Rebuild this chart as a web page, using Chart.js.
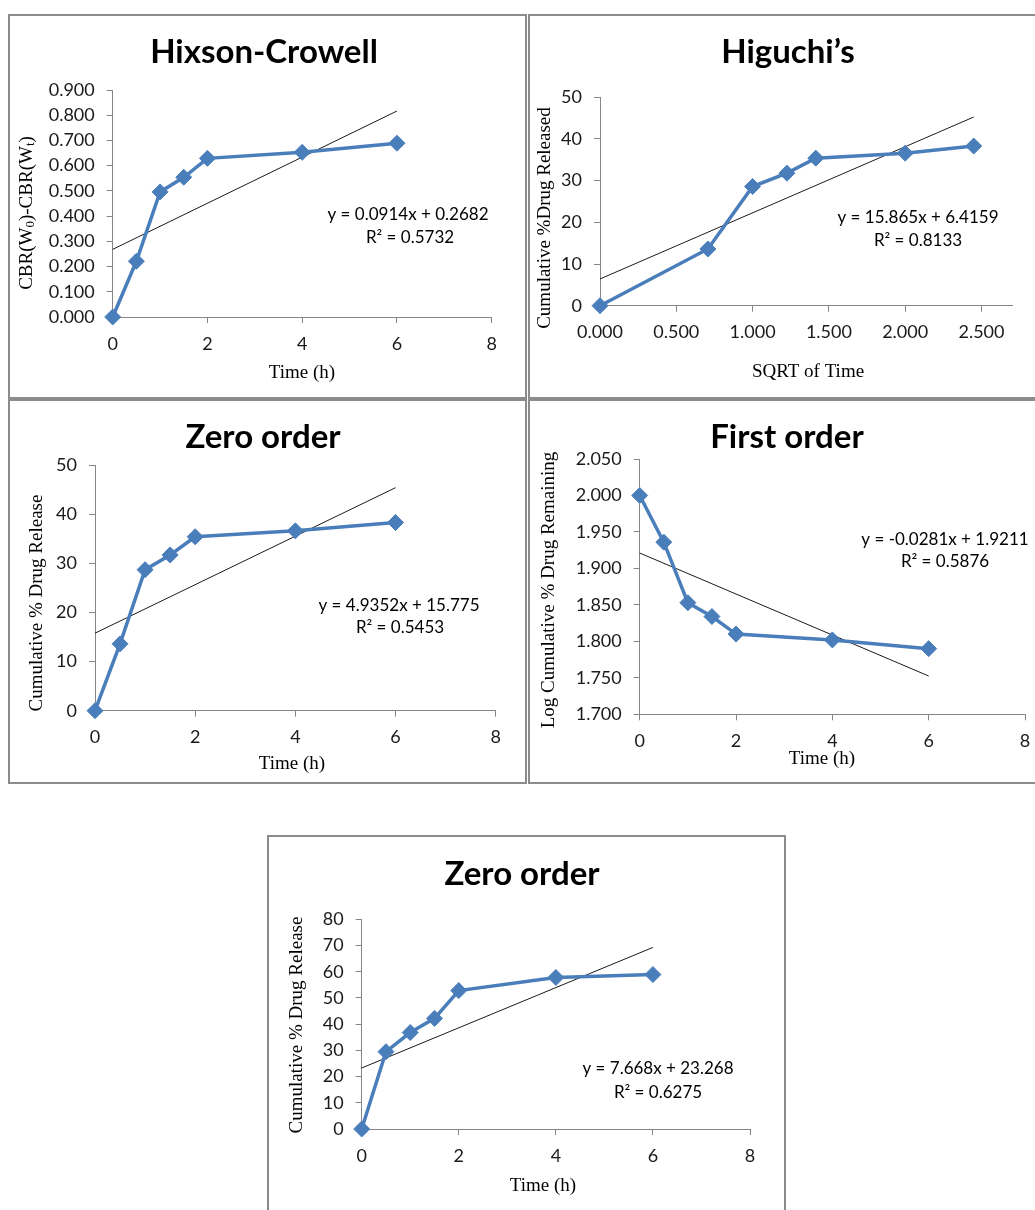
<!doctype html>
<html>
<head>
<meta charset="utf-8">
<title>Release kinetics models</title>
<script src="https://cdn.jsdelivr.net/npm/chart.js@4.4.1/dist/chart.umd.min.js"></script>
<style>
html, body { margin: 0; padding: 0; overflow: hidden; }
body { width: 1035px; height: 1210px; position: relative; background: #fff; }
.box { position: absolute; border: 2px solid #8c8c8c; box-sizing: border-box; background: #fff; }
.box canvas { position: absolute; left: 0; top: 0; }
</style>
</head>
<body>

<div class="box" style="left:8px;top:14px;width:519px;height:385px"><canvas id="c1" width="515" height="381"></canvas></div>
<div class="box" style="left:528px;top:14px;width:520px;height:385px"><canvas id="c2" width="516" height="381"></canvas></div>
<div class="box" style="left:8px;top:399px;width:519px;height:385px"><canvas id="c3" width="515" height="381"></canvas></div>
<div class="box" style="left:528px;top:399px;width:520px;height:385px"><canvas id="c4" width="516" height="381"></canvas></div>
<div class="box" style="left:267px;top:835px;width:519px;height:390px"><canvas id="c5" width="515" height="386"></canvas></div>

<script>
// values
var timeH = [0, 0.5, 1, 1.5, 2, 4, 6];
var sqrtTime = [0, 0.707, 1, 1.225, 1.414, 2, 2.449];

var hixsonY = [0, 0.221, 0.496, 0.554, 0.629, 0.653, 0.689];
var higuchiY = [0, 13.6, 28.6, 31.8, 35.4, 36.6, 38.3];
var zeroY = [0, 13.6, 28.7, 31.7, 35.4, 36.6, 38.3];
var firstY = [2.000, 1.936, 1.853, 1.834, 1.810, 1.802, 1.790];
var zero2Y = [0, 29.5, 36.8, 42.2, 52.8, 57.8, 58.9];

// trendlines [slope, intercept] as printed on each chart
var hixsonFit = [0.0914, 0.2682];
var higuchiFit = [15.865, 6.4159];
var zeroFit = [4.9352, 15.775];
var firstFit = [-0.0281, 1.9211];
var zero2Fit = [7.668, 23.268];

var BLUE = '#4a7ebb';
var AXIS = '#868686';
var TITLE_FONT = 'bold 33px Lato';
var AXIS_FONT = '19px "Liberation Serif"';
var EQ_FONT = '17px Lato';

// draws titles, axis titles and equations at page positions
var pageText = {
	id: 'pageText',
	afterDraw: function(chart, args, opts) {
		var ctx = chart.ctx;
		var ox = opts.origin[0], oy = opts.origin[1];
		opts.items.forEach(function(it) {
			ctx.save();
			ctx.fillStyle = '#000';
			ctx.translate(it.x - ox, it.y - oy);
			if (it.rot) {
				ctx.rotate(-Math.PI / 2);
				ctx.textBaseline = 'middle';
			} else {
				ctx.textBaseline = 'alphabetic';
			}
			if (it.parts) {
				// text with subscripts
				var total = 0;
				it.parts.forEach(function(p) {
					ctx.font = p.sub ? '13px "Liberation Serif"' : it.font;
					total += ctx.measureText(p.t).width;
				});
				var x = -total / 2;
				ctx.textAlign = 'left';
				it.parts.forEach(function(p) {
					ctx.font = p.sub ? '13px "Liberation Serif"' : it.font;
					ctx.fillText(p.t, x, p.sub ? 4 : 0);
					x += ctx.measureText(p.t).width;
				});
			} else {
				ctx.font = it.font;
				ctx.textAlign = 'center';
				ctx.fillText(it.t, 0, 0);
			}
			ctx.restore();
		});
	}
};

function axis(min, max, step, dec) {
	return {
		type: 'linear',
		min: min,
		max: max,
		ticks: {
			stepSize: step,
			includeBounds: false,
			font: { family: 'Lato', size: 18 },
			color: '#1a1a1a',
			padding: 11,
			callback: function(v) { return Number(v).toFixed(dec); }
		},
		grid: { drawOnChartArea: false, tickLength: 6, color: AXIS, lineWidth: 1 },
		border: { color: AXIS, width: 1 }
	};
}

function makeChart(id, s) {
	var cv = document.getElementById(id);
	var ox = s.origin[0], oy = s.origin[1];
	var W = cv.width, H = cv.height;
	var p = s.plot; // left, top, right, bottom (page px)
	var yW = p[0] - ox;
	var xH = oy + H - p[3];

	var pts = s.xs.map(function(x, i) { return { x: x, y: s.ys[i] }; });
	var fitPts = [0, s.xs[s.xs.length - 1]].map(function(x) {
		return { x: x, y: s.fit[0] * x + s.fit[1] };
	});

	var xScale = axis(s.x[0], s.x[1], s.x[2], s.x[3]);
	xScale.ticks.padding = 10;
	xScale.afterFit = function(sc) { sc.height = xH; };
	var yScale = axis(s.y[0], s.y[1], s.y[2], s.y[3]);
	yScale.ticks.padding = 12;
	yScale.afterFit = function(sc) { sc.width = yW; };

	return new Chart(cv, {
		type: 'scatter',
		data: {
			datasets: [{
				data: pts,
				showLine: true,
				borderColor: BLUE,
				backgroundColor: BLUE,
				borderWidth: 3.5,
				pointStyle: 'rectRot',
				pointRadius: 8,
				pointHoverRadius: 8,
				pointBorderWidth: 1,
				clip: false
			}, {
				data: fitPts,
				showLine: true,
				borderColor: '#1a1a1a',
				borderWidth: 1,
				pointRadius: 0,
				clip: false
			}]
		},
		options: {
			responsive: false,
			animation: false,
			layout: { padding: { left: 0, top: p[1] - oy, right: ox + W - p[2], bottom: 0 } },
			plugins: {
				legend: { display: false },
				tooltip: { enabled: false },
				pageText: { origin: s.origin, items: s.texts }
			},
			scales: { x: xScale, y: yScale }
		},
		plugins: [pageText]
	});
}

makeChart('c1', {
	origin: [10, 16], plot: [112.7, 90, 491.7, 317],
	xs: timeH, ys: hixsonY, fit: hixsonFit,
	x: [0, 8, 2, 0], y: [0, 0.9, 0.1, 3],
	texts: [
		{ t: 'Hixson-Crowell', x: 264, y: 63, font: TITLE_FONT },
		{ t: 'Time (h)', x: 302, y: 378, font: AXIS_FONT },
		{ parts: [{ t: 'CBR(W' }, { t: '0', sub: true }, { t: ')-CBR(W' }, { t: 't', sub: true }, { t: ')' }], x: 27, y: 213, rot: true, font: AXIS_FONT },
		{ t: 'y = 0.0914x + 0.2682', x: 408, y: 220, font: EQ_FONT },
		{ t: 'R² = 0.5732', x: 410, y: 243, font: EQ_FONT }
	]
});

makeChart('c2', {
	origin: [530, 16], plot: [600, 97.3, 1012, 305.7],
	xs: sqrtTime, ys: higuchiY, fit: higuchiFit,
	x: [0, 2.7, 0.5, 3], y: [0, 50, 10, 0],
	texts: [
		{ t: 'Higuchi’s', x: 788, y: 63, font: TITLE_FONT },
		{ t: 'SQRT of Time', x: 808, y: 377, font: AXIS_FONT },
		{ t: 'Cumulative %Drug Released', x: 545, y: 218, rot: true, font: AXIS_FONT },
		{ t: 'y = 15.865x + 6.4159', x: 918, y: 223, font: EQ_FONT },
		{ t: 'R² = 0.8133', x: 918, y: 246, font: EQ_FONT }
	]
});

makeChart('c3', {
	origin: [10, 401], plot: [95, 465, 495.7, 710.7],
	xs: timeH, ys: zeroY, fit: zeroFit,
	x: [0, 8, 2, 0], y: [0, 50, 10, 0],
	texts: [
		{ t: 'Zero order', x: 263, y: 448, font: TITLE_FONT },
		{ t: 'Time (h)', x: 292, y: 769, font: AXIS_FONT },
		{ t: 'Cumulative % Drug Release', x: 37.5, y: 603, rot: true, font: AXIS_FONT },
		{ t: 'y = 4.9352x + 15.775', x: 399, y: 611, font: EQ_FONT },
		{ t: 'R² = 0.5453', x: 400, y: 633, font: EQ_FONT }
	]
});

makeChart('c4', {
	origin: [530, 401], plot: [639.7, 459, 1025, 714.3],
	xs: timeH, ys: firstY, fit: firstFit,
	x: [0, 8, 2, 0], y: [1.7, 2.05, 0.05, 3],
	texts: [
		{ t: 'First order', x: 787, y: 448, font: TITLE_FONT },
		{ t: 'Time (h)', x: 822, y: 764, font: AXIS_FONT },
		{ t: 'Log Cumulative % Drug Remaining', x: 549, y: 590, rot: true, font: AXIS_FONT },
		{ t: 'y = -0.0281x + 1.9211', x: 945, y: 545, font: EQ_FONT },
		{ t: 'R² = 0.5876', x: 945, y: 567, font: EQ_FONT }
	]
});

makeChart('c5', {
	origin: [269, 837], plot: [361.7, 919.3, 750, 1129],
	xs: timeH, ys: zero2Y, fit: zero2Fit,
	x: [0, 8, 2, 0], y: [0, 80, 10, 0],
	texts: [
		{ t: 'Zero order', x: 522, y: 885, font: TITLE_FONT },
		{ t: 'Time (h)', x: 543, y: 1191, font: AXIS_FONT },
		{ t: 'Cumulative % Drug Release', x: 297, y: 1025, rot: true, font: AXIS_FONT },
		{ t: 'y = 7.668x + 23.268', x: 658, y: 1074, font: EQ_FONT },
		{ t: 'R² = 0.6275', x: 658, y: 1098, font: EQ_FONT }
	]
});
</script>

</body>
</html>
